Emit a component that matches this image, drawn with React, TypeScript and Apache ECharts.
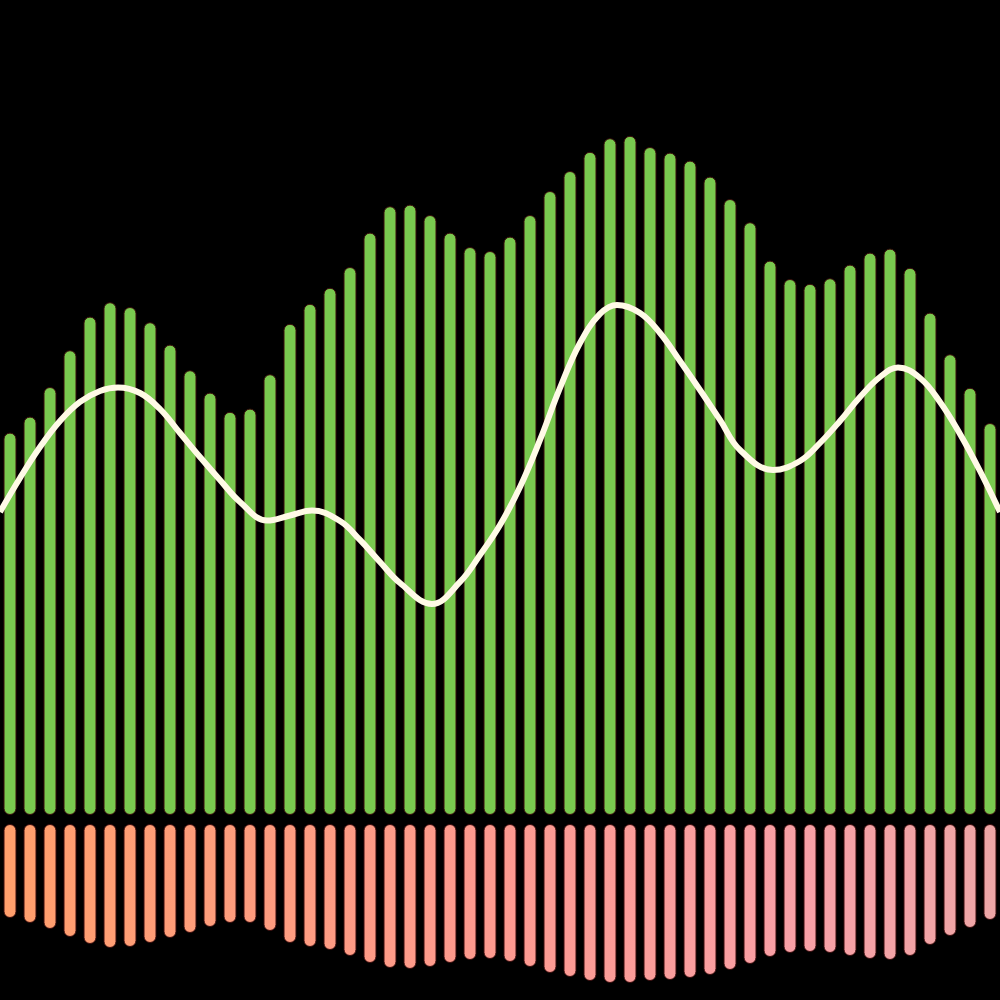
import React, { useEffect, useRef } from "react";
import * as echarts from "echarts";

const categories: string[] = Array.from({ length: 50 }, (_, i) => String(i + 1));

const greenValues: number[] = [
  47.8, 49.8, 53.5, 58.1, 62.3, 64.1, 63.5, 61.6, 58.8, 55.6,
  52.8, 50.4, 50.8, 55.1, 61.4, 63.9, 65.9, 68.5, 72.8, 76.1,
  76.3, 75.0, 72.8, 71.0, 70.5, 72.3, 75.0, 78.0, 80.5, 82.9,
  84.6, 84.9, 83.5, 82.8, 81.8, 79.8, 77.0, 74.1, 69.3, 67.0,
  66.4, 67.1, 68.8, 70.3, 70.8, 68.4, 62.8, 57.6, 53.4, 49.0,
];

const pinkValues: number[] = [
  47, 49.5, 52.5, 56.5, 60, 62, 61.5, 59.5, 57, 54.5,
  51.5, 49.5, 49.5, 53.5, 59.5, 61.5, 63, 66, 69.5, 72,
  72.5, 71.5, 69.5, 68, 67.5, 69, 71.5, 74.5, 76.5, 78.5,
  79.5, 79.5, 78.5, 78, 77, 75.5, 73, 70, 66.5, 64.5,
  64, 64.5, 66, 67.5, 68, 66, 60.5, 56, 52, 48,
];

// Trend line: positions along the category range (0..50) and values
const lineX: number[] = [
  0, 1, 2, 3, 4, 5, 5.9, 7, 8, 9, 10, 11, 12, 13.35, 14.5, 15.6, 17, 18, 19, 20,
  21.6, 23, 24, 25, 26, 27, 28, 29, 30, 30.85, 32, 33, 34, 35, 36, 37, 38.65, 40,
  41, 42, 43, 44, 44.9, 46, 47, 48, 49, 50,
];
const lineY: number[] = [
  37.88, 42.13, 46.0, 49.25, 51.63, 53.0, 53.44, 52.75, 50.75, 47.75, 44.75, 41.88,
  39.13, 36.81, 37.44, 38.06, 36.75, 34.38, 31.63, 29.0, 26.38, 29.13, 32.5, 36.25,
  41.0, 46.88, 53.38, 59.0, 62.63, 63.75, 62.75, 60.25, 56.75, 53.13, 49.38, 45.63,
  43.13, 44.25, 46.5, 49.25, 52.25, 54.75, 55.94, 54.63, 51.63, 47.63, 43.0, 37.88,
];

export default function App() {
  const ref = useRef<HTMLDivElement>(null);

  useEffect(() => {
    document.body.style.margin = "0";
    document.body.style.background = "#000";
    if (!ref.current) return;
    const chart = echarts.init(ref.current, undefined, { renderer: "svg" });

    const pinkGradient = new echarts.graphic.LinearGradient(
      0, 0, 1000, 0,
      [
        { offset: 0, color: "#FF9F6C" },
        { offset: 0.5, color: "#FD9A90" },
        { offset: 0.8, color: "#F8A0A6" },
        { offset: 1, color: "#EDA6A6" },
      ],
      true
    );

    chart.setOption({
      animation: false,
      backgroundColor: "#000000",
      grid: [
        { left: 0, right: 0, top: 15, height: 800 },
        { left: 0, right: 0, top: 824, height: 160 },
      ],
      xAxis: [
        { type: "category", gridIndex: 0, data: categories, show: false },
        { type: "value", gridIndex: 0, min: 0, max: 50, show: false },
        { type: "category", gridIndex: 1, data: categories, show: false },
      ],
      yAxis: [
        { type: "value", gridIndex: 0, min: 0, max: 100, show: false },
        { type: "value", gridIndex: 1, min: 0, max: 80, inverse: true, show: false },
      ],
      series: [
        {
          type: "bar",
          xAxisIndex: 0,
          yAxisIndex: 0,
          data: greenValues,
          barWidth: 13,
          itemStyle: {
            color: "#79C94F",
            borderRadius: 6.5,
            borderColor: "#3a0d0d",
            borderWidth: 1,
          },
          z: 2,
        },
        {
          type: "bar",
          xAxisIndex: 2,
          yAxisIndex: 1,
          data: pinkValues,
          barWidth: 13,
          itemStyle: {
            color: pinkGradient,
            borderRadius: 6.5,
            borderColor: "#3a0d0d",
            borderWidth: 1,
          },
          z: 2,
        },
        {
          type: "line",
          xAxisIndex: 1,
          yAxisIndex: 0,
          data: lineX.map((x, i) => [x, lineY[i]]),
          smooth: 0.4,
          showSymbol: false,
          symbol: "none",
          lineStyle: { color: "#FFFAE6", width: 6 },
          z: 5,
        },
      ],
    });

    return () => chart.dispose();
  }, []);

  return <div ref={ref} style={{ width: 1000, height: 1000 }} />;
}
